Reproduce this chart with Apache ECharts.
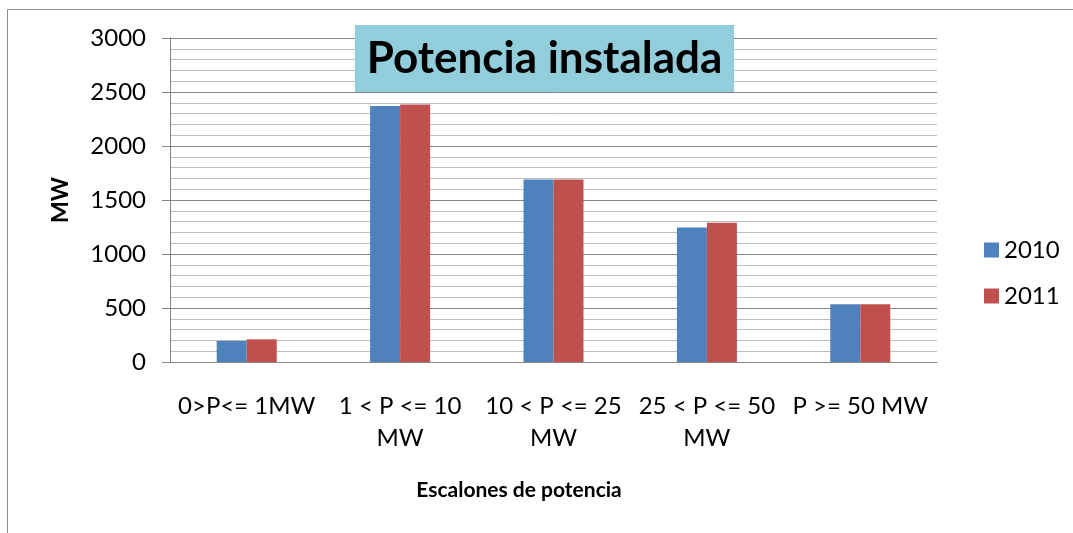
<!DOCTYPE html>
<html>
<head>
<meta charset="utf-8">
<script src="https://cdn.jsdelivr.net/npm/echarts@6/dist/echarts.min.js"></script>
<style>
  html, body { margin: 0; padding: 0; background: #fff; }
  #chart { width: 1073px; height: 533px; }
</style>
</head>
<body>
<div id="chart"></div>
<script>
// datos del gráfico
const categories = ['0>P<= 1MW', '1 < P <= 10\nMW', '10 < P <= 25\nMW', '25 < P <= 50\nMW', 'P >= 50 MW']
const seriesNames = ['2010', '2011']
const values2010 = [195, 2370, 1690, 1245, 535]
const values2011 = [210, 2385, 1690, 1290, 535]
const yTicks = [0, 500, 1000, 1500, 2000, 2500, 3000]

const fontFamily = 'Lato, "Noto Sans", sans-serif'

const chart = echarts.init(document.getElementById('chart'))

chart.setOption({
  animation: false,
  textStyle: { fontFamily: fontFamily },
  graphic: [
    {
      // marco exterior del gráfico
      type: 'rect',
      z: 0,
      shape: { x: 7.5, y: 9.5, width: 1200, height: 700 },
      style: { fill: 'none', stroke: '#8c8c8c', lineWidth: 1 }
    },
    {
      // caja del título
      type: 'rect',
      z: 100,
      shape: { x: 355, y: 25, width: 379, height: 67 },
      style: { fill: '#92CDDC' }
    },
    {
      type: 'text',
      z: 101,
      x: 544.5,
      y: 59,
      style: {
        text: 'Potencia instalada',
        fontFamily: fontFamily,
        fontWeight: 'bold',
        fontSize: 44,
        fill: '#000',
        align: 'center',
        verticalAlign: 'middle'
      }
    }
  ],
  legend: {
    orient: 'vertical',
    left: 979,
    top: 233,
    itemWidth: 15,
    itemHeight: 15,
    itemGap: 22,
    icon: 'rect',
    textStyle: { fontSize: 24, color: '#000', fontFamily: fontFamily },
    data: seriesNames
  },
  grid: {
    left: 170,
    right: 136,
    top: 38,
    bottom: 171
  },
  xAxis: {
    type: 'category',
    data: categories,
    name: 'Escalones de potencia',
    nameLocation: 'middle',
    nameGap: 118,
    nameTextStyle: {
      fontSize: 21,
      fontWeight: 'bold',
      color: '#000',
      padding: [0, 69, 0, 0]
    },
    axisLine: { lineStyle: { color: '#868686', width: 1 } },
    axisTick: { show: false },
    axisLabel: {
      fontSize: 24,
      lineHeight: 32,
      color: '#000',
      margin: 28,
      interval: 0
    }
  },
  yAxis: {
    type: 'value',
    min: yTicks[0],
    max: yTicks[yTicks.length - 1],
    interval: 500,
    name: 'MW',
    nameLocation: 'middle',
    nameRotate: 90,
    nameGap: 98,
    nameTextStyle: { fontSize: 23, fontWeight: 'bold', color: '#000' },
    axisLine: { show: true, lineStyle: { color: '#868686', width: 1 } },
    axisTick: { show: true, length: 8, lineStyle: { color: '#868686' } },
    axisLabel: {
      fontSize: 24,
      color: '#000',
      margin: 24,
      formatter: v => String(v)
    },
    splitLine: { lineStyle: { color: '#868686', width: 1 } },
    minorTick: { show: false, splitNumber: 5 },
    minorSplitLine: { show: true, lineStyle: { color: '#bdbdbd', width: 1 } }
  },
  series: [
    {
      name: seriesNames[0],
      type: 'bar',
      barWidth: 30,
      barGap: '0%',
      itemStyle: { color: '#4F81BD' },
      data: values2010
    },
    {
      name: seriesNames[1],
      type: 'bar',
      barWidth: 30,
      barGap: '0%',
      itemStyle: { color: '#C0504D' },
      data: values2011
    }
  ]
})
</script>
</body>
</html>
